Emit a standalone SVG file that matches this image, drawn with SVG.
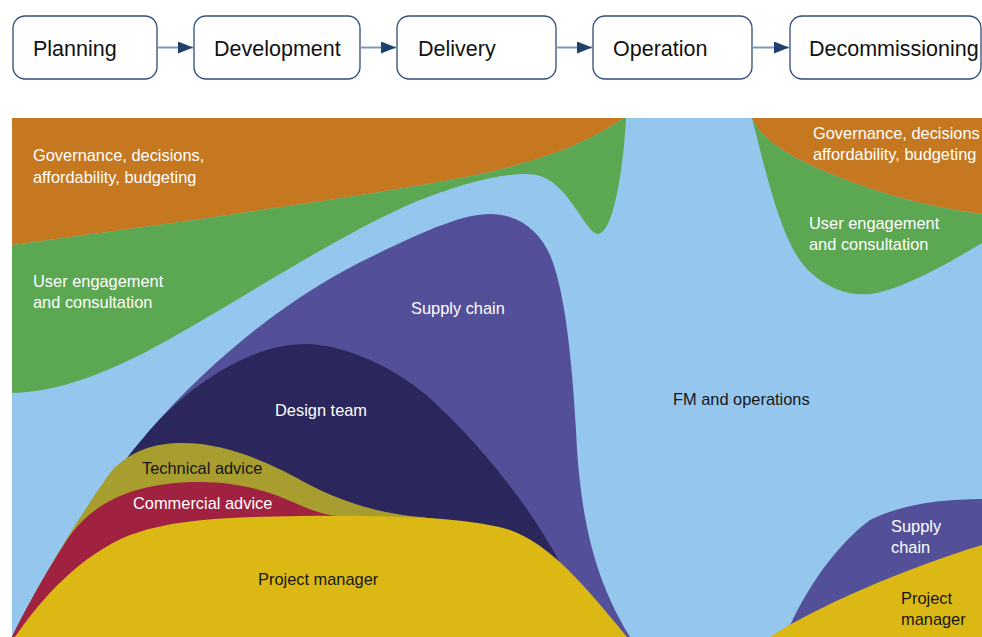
<svg xmlns="http://www.w3.org/2000/svg" width="982" height="637" viewBox="0 0 982 637">
<style>
.box{fill:#fff;stroke:#2e4d7b;stroke-width:1.3}
.bt{font-family:"Liberation Sans",Arial,sans-serif;font-size:21.5px;fill:#111}
.conn{stroke:#8497b8;stroke-width:2;fill:none}
.lb{font-family:"Liberation Sans",Arial,sans-serif;font-size:16.4px}
.w{fill:#fff}
.d{fill:#161616}
</style>
<defs>
<marker id="ah" markerWidth="15" markerHeight="12" refX="15" refY="6" orient="auto" markerUnits="userSpaceOnUse">
<path d="M0,0 L15,6 L0,12 Z" fill="#213f6d"/>
</marker>
</defs>
<rect width="982" height="637" fill="#fff"/>

<g id="stages">
<g id="n-planning"><rect class="box" x="13" y="16" width="144" height="63" rx="12"/><text class="bt" x="33" y="56">Planning</text></g>
<g id="n-development"><rect class="box" x="194" y="16" width="166" height="63" rx="12"/><text class="bt" x="214" y="56">Development</text></g>
<g id="n-delivery"><rect class="box" x="397" y="16" width="159" height="63" rx="12"/><text class="bt" x="418" y="56">Delivery</text></g>
<g id="n-operation"><rect class="box" x="593" y="16" width="159" height="63" rx="12"/><text class="bt" x="613" y="56">Operation</text></g>
<g id="n-decommissioning"><rect class="box" x="790" y="16" width="191" height="63" rx="12"/><text class="bt" x="809" y="56">Decommissioning</text></g>
</g>

<g id="connectors">
<line class="conn" x1="157" y1="47.5" x2="193" y2="47.5" marker-end="url(#ah)"/>
<line class="conn" x1="360" y1="47.5" x2="396" y2="47.5" marker-end="url(#ah)"/>
<line class="conn" x1="556" y1="47.5" x2="592" y2="47.5" marker-end="url(#ah)"/>
<line class="conn" x1="752" y1="47.5" x2="789" y2="47.5" marker-end="url(#ah)"/>
</g>

<g id="chart">
<rect id="fm" x="12" y="118" width="970" height="519" fill="#95c6ee"/>
<path id="gov-left" fill="#c67820" d="M12,118 L624,118 C590,140 560,155 490,172 C420,188 200,220 12,245 Z"/>
<path id="user-left" fill="#5ca752" d="M12,245 C200,220 420,188 490,172 C560,155 590,140 624,118 L626,118 C624,160 615,232 598,234 C590,234 580,212 563,192 C550,178 540,174 525,174 C500,174 460,183 408,205 C330,240 240,300 168,340 C110,372 60,392 12,393 Z"/>
<path id="supply-left" fill="#535099" d="M12,637 C40,580 90,500 150,430 C220,350 300,290 375,255 C430,228 465,214 490,214 C520,214 540,232 550,255 C565,290 572,360 576,430 C580,520 595,580 630,637 Z"/>
<path id="design" fill="#2b275c" d="M12,637 C40,580 90,500 150,430 C190,385 250,344 305,344 C350,344 410,375 442,410 C475,440 530,505 560,563 L560,637 Z"/>
<path id="technical" fill="#a89d2f" d="M12,637 C40,580 80,515 110,473 C130,450 155,443 183,443 C220,443 260,458 295,477 C330,497 370,513 425,517.5 C435,518.5 445,521 452,524 L430,600 Z"/>
<path id="commercial" fill="#a02140" d="M12,637 C30,600 50,566 67,540 C90,505 130,482 200,482 C240,482 270,492 295,503 C310,510 325,515 340,516.5 C350,517.5 358,519 365,521 L345,600 Z"/>
<path id="pm-left" fill="#dcb814" d="M15,637 C40,600 80,555 130,535 C170,520 220,517 300,516 C400,515 470,518 510,530 C550,545 580,580 627,637 Z"/>
<path id="gov-right" fill="#c67820" d="M752,118 L982,118 L982,214 C930,208 860,190 800,160 C775,147 760,135 752,118 Z"/>
<path id="user-right" fill="#5ca752" d="M752,118 C770,190 785,250 810,272 C830,290 850,296 870,294 C900,290 940,268 982,243 L982,214 C930,208 860,190 800,160 C775,147 760,135 752,118 Z"/>
<path id="supply-right" fill="#535099" d="M785,637 C800,600 830,550 870,520 C900,505 940,499 982,499 L982,637 Z"/>
<path id="pm-right" fill="#dcb814" d="M770,637 C810,610 900,570 982,545 L982,637 Z"/>
</g>

<g id="labels">
<text class="lb w" x="33" y="160.5">Governance, decisions,</text>
<text class="lb w" x="33" y="182.5">affordability, budgeting</text>
<text class="lb w" x="33" y="287">User engagement</text>
<text class="lb w" x="33" y="308">and consultation</text>
<text class="lb w" x="411" y="314">Supply chain</text>
<text class="lb w" x="275" y="416">Design team</text>
<text class="lb d" x="142" y="474">Technical advice</text>
<text class="lb w" x="133" y="509">Commercial advice</text>
<text class="lb d" x="258" y="585">Project manager</text>
<text class="lb d" x="673" y="405">FM and operations</text>
<text class="lb w" x="813" y="138.5">Governance, decisions</text>
<text class="lb w" x="813" y="160">affordability, budgeting</text>
<text class="lb w" x="809" y="229">User engagement</text>
<text class="lb w" x="809" y="250">and consultation</text>
<text class="lb w" x="891" y="532">Supply</text>
<text class="lb w" x="891" y="553">chain</text>
<text class="lb d" x="901" y="604">Project</text>
<text class="lb d" x="901" y="625">manager</text>
</g>
</svg>
